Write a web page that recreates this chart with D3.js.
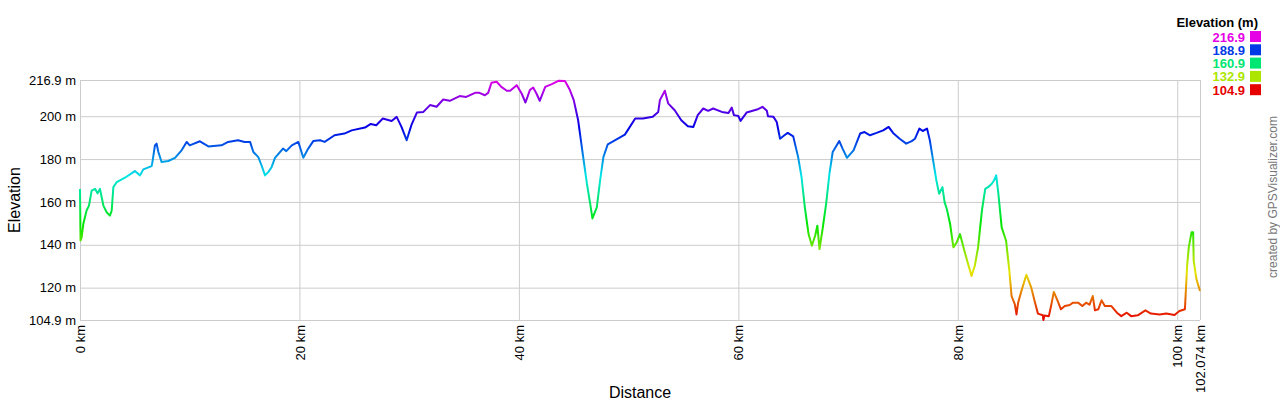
<!DOCTYPE html>
<html>
<head>
<meta charset="utf-8">
<script src="https://cdn.jsdelivr.net/npm/d3@7"></script>
<style>
  body { margin: 0; background: #fff; }
  svg { display: block; font-family: "Liberation Sans", Arial, sans-serif; }
</style>
</head>
<body>
<svg id="chart" width="1280" height="400"></svg>
<script>
// track profile
var distKm = [0, 0.05, 0.15, 0.3, 0.6, 0.82, 1.06, 1.37, 1.6, 1.82, 2.13, 2.43, 2.73, 2.89, 3.04, 3.34, 4.1, 5.0, 5.47, 5.77,
  6.53, 6.6, 6.83, 6.98, 7.14, 7.44, 8.05, 8.66, 9.26, 9.72, 10.0, 10.93, 11.7, 12.9, 13.5, 14.4, 15.0, 15.5, 15.8, 16.25,
  16.55, 16.86, 17.16, 17.46, 17.77, 18.5, 18.8, 19.3, 19.9, 20.35, 20.8, 21.26, 21.87, 22.3, 23.2, 24.1, 24.76, 25.97, 26.5, 27.0,
  27.6, 28.4, 28.86, 29.3, 29.77, 30.2, 30.7, 31.3, 31.9, 32.5, 33.1, 33.7, 34.6, 35.2, 36.0, 36.4, 36.9, 37.2, 37.5, 37.97,
  38.4, 38.9, 39.2, 39.8, 40.25, 40.6, 41.0, 41.3, 41.6, 41.9, 42.4, 43.0, 43.6, 44.2, 44.65, 45.0, 45.4, 45.86, 46.2, 46.5,
  46.7, 47.1, 47.4, 47.7, 48.1, 48.9, 49.66, 50.6, 51.3, 52.2, 52.7, 52.85, 53.3, 53.6, 54.2, 54.8, 55.4, 55.9, 56.3, 56.8,
  57.25, 57.7, 58.5, 59.1, 59.4, 59.6, 60.0, 60.2, 60.75, 61.7, 62.2, 62.6, 62.7, 63.2, 63.5, 63.8, 64.2, 64.5, 65.0, 65.45,
  65.76, 66.06, 66.4, 66.7, 67.0, 67.2, 67.4, 67.7, 68.0, 68.3, 68.6, 69.2, 69.5, 69.9, 70.5, 71.1, 71.5, 72.0, 72.6, 73.2,
  73.7, 74.1, 74.7, 75.3, 75.8, 76.1, 76.5, 76.8, 77.2, 77.45, 77.75, 78.05, 78.3, 78.6, 78.8, 79.0, 79.3, 79.6, 79.9, 80.2,
  80.6, 80.9, 81.25, 81.55, 81.85, 82.2, 82.5, 82.76, 83.1, 83.3, 83.5, 83.7, 84.0, 84.4, 84.7, 84.9, 85.2, 85.35, 85.5, 85.8,
  86.25, 86.7, 87.0, 87.3, 87.75, 87.8, 87.9, 88.3, 88.5, 88.75, 89.1, 89.4, 89.75, 90.2, 90.5, 90.96, 91.35, 91.7, 92.0, 92.3,
  92.5, 92.8, 93.1, 93.4, 94.0, 94.5, 94.9, 95.4, 95.8, 96.4, 97.1, 97.6, 98.4, 99.0, 99.75, 100.2, 100.7, 100.9, 101.05, 101.3,
  101.45, 101.5, 101.75, 102.074];
var elevM = [166, 142, 143.4, 149.7, 156, 158.3, 165.3, 166.1, 164, 166.1, 158.3, 155.2, 153.6, 156, 166.9, 169.2, 171.3, 174.4, 172.4, 175.2,
  176.7, 178.6, 186.4, 187.2, 183.3, 178.6, 179.1, 180.6, 184.1, 188, 186.4, 188.3, 185.9, 186.4, 188, 188.8, 188, 188, 183.3, 180.9,
  177, 172.4, 173.9, 176.2, 180.6, 184.9, 183.7, 186.4, 188, 180.6, 184.9, 188.4, 188.8, 188, 191.1, 191.9, 193.4, 194.7, 196.4, 195.8,
  198.9, 197.8, 199.7, 195, 188.8, 195.8, 201.7, 202, 205.2, 204.4, 207.8, 207.2, 209.4, 209, 210.9, 210.9, 209.8, 210.9, 215.6, 216.1,
  213.7, 211.9, 211.9, 214.5, 210.6, 206.4, 212.2, 213.4, 210.6, 207.2, 213.7, 215, 216.5, 216.4, 212.2, 207.5, 198.1, 180.9, 168.5, 159.1,
  152.3, 157.5, 170, 180.9, 186.9, 189.2, 191.4, 198.9, 198.9, 199.7, 202, 207.5, 211.9, 206, 202.8, 198.1, 195.3, 195, 200.5, 203.6,
  202.5, 203.6, 202, 201.5, 204, 200.5, 200.1, 197.8, 201.7, 203.1, 204.4, 202.5, 200, 199.7, 197.3, 189.5, 191.1, 192.2, 190.6, 180.9,
  171.6, 157.5, 145, 139.6, 144.2, 148.9, 138, 148.1, 159.1, 173.1, 183.3, 188.4, 184.9, 180.6, 184.1, 191.9, 192.6, 191.1, 192.2, 193.4,
  195, 192.2, 189.5, 187.2, 188.4, 189.5, 194.2, 193.1, 194.2, 188.8, 179.4, 170, 163.8, 166.9, 159.8, 156.7, 149.7, 138.8, 141.1, 145,
  137.2, 131.7, 125.5, 130.2, 138.8, 156, 166.1, 166.9, 168.5, 170, 172.4, 163.8, 148.1, 141.9, 127.8, 116.1, 112.2, 107.5, 113, 118.5,
  126, 120, 113.8, 107.9, 107.1, 104.9, 107, 106.7, 111.4, 118, 113.8, 109.9, 111.4, 111.9, 113, 113, 111.4, 113, 112, 116.1,
  109.4, 109.9, 114.1, 111.4, 111.4, 108.3, 106.7, 108.3, 106.7, 107.1, 109.4, 107.9, 107.5, 107.9, 107.2, 109.1, 109.9, 130.2, 138.8, 145.8,
  145.8, 132.5, 123.9, 118.5];

var yTicks = [104.9, 120, 140, 160, 180, 200, 216.9];
var yTickLabels = ["104.9 m", "120 m", "140 m", "160 m", "180 m", "200 m", "216.9 m"];
var xTicks = [0, 20, 40, 60, 80, 100, 102.074];
var xTickLabels = ["0 km", "20 km", "40 km", "60 km", "80 km", "100 km", "102.074 km"];
var legendValues = [216.9, 188.9, 160.9, 132.9, 104.9];

var plotLeft = 80, plotRight = 1200, plotTop = 80, plotBottom = 320;
var minE = 104.9, maxE = 216.9;

var svg = d3.select('#chart');

var x = d3.scaleLinear().domain([0, 102.074]).range([plotLeft, plotRight]);
var y = d3.scaleLinear().domain([minE, maxE]).range([plotBottom, plotTop]);

// red at the bottom, round the hue wheel to magenta at the top
var hue = d3.scaleLinear().domain([minE, maxE]).range([0, 300]);
function elevColor(e) {
  return d3.hsl(hue(e), 1, 0.45).formatHex();
}

var grid = '#cccccc';

// horizontal grid + y labels
svg.append('g')
  .attr('transform', 'translate(' + plotLeft + ',0)')
  .call(d3.axisLeft(y).tickValues(yTicks).tickSize(-(plotRight - plotLeft)).tickPadding(4)
    .tickFormat(function (d, i) { return yTickLabels[i]; }))
  .call(function (g) {
    g.select('.domain').remove();
    g.selectAll('line').attr('stroke', grid);
    g.selectAll('text').attr('font-size', 13).attr('fill', '#000');
  })
  .attr('font-family', null);

// vertical grid + x labels
var xg = svg.append('g')
  .attr('transform', 'translate(0,' + plotBottom + ')')
  .call(d3.axisBottom(x).tickValues(xTicks).tickSize(-(plotBottom - plotTop)).tickPadding(0)
    .tickFormat(function (d, i) { return xTickLabels[i]; }))
  .attr('font-family', null);
xg.select('.domain').remove();
xg.selectAll('line').attr('stroke', grid);
xg.selectAll('text')
  .attr('font-size', 13).attr('fill', '#000')
  .attr('text-anchor', 'end')
  .attr('dy', '0.35em')
  .attr('transform', 'translate(0,5) rotate(-90)')
  .attr('x', 0).attr('y', 0);

// frame left edge
svg.append('line').attr('x1', plotLeft + 0.5).attr('x2', plotLeft + 0.5).attr('y1', plotTop).attr('y2', plotBottom)
  .attr('stroke', grid);

// elevation colour follows height, so one vertical gradient does it
var defs = svg.append('defs');
var grad = defs.append('linearGradient')
  .attr('id', 'elevGrad')
  .attr('gradientUnits', 'userSpaceOnUse')
  .attr('x1', 0).attr('x2', 0)
  .attr('y1', y(minE)).attr('y2', y(maxE));
d3.range(0, 31).forEach(function (i) {
  var e = minE + (maxE - minE) * i / 30;
  grad.append('stop').attr('offset', (i / 30 * 100) + '%').attr('stop-color', elevColor(e));
});

var pts = distKm.map(function (d, i) { return [d, elevM[i]]; });
var line = d3.line().x(function (d) { return x(d[0]); }).y(function (d) { return y(d[1]); });

svg.append('path')
  .datum(pts)
  .attr('d', line)
  .attr('fill', 'none')
  .attr('stroke', 'url(#elevGrad)')
  .attr('stroke-width', 2)
  .attr('stroke-linejoin', 'round');

// axis titles
svg.append('text')
  .attr('transform', 'translate(20,' + ((plotTop + plotBottom) / 2) + ') rotate(-90)')
  .attr('text-anchor', 'middle')
  .attr('font-size', 16)
  .text('Elevation');

svg.append('text')
  .attr('x', (plotLeft + plotRight) / 2).attr('y', 398)
  .attr('text-anchor', 'middle')
  .attr('font-size', 16)
  .text('Distance');

// legend
svg.append('text')
  .attr('x', 1258).attr('y', 27)
  .attr('text-anchor', 'end')
  .attr('font-size', 13).attr('font-weight', 'bold')
  .text('Elevation (m)');

var legend = svg.selectAll('.legend').data(legendValues).enter().append('g')
  .attr('class', 'legend')
  .attr('transform', function (d, i) { return 'translate(0,' + (31 + i * 13.3) + ')'; });

legend.append('rect')
  .attr('x', 1250).attr('y', 0).attr('width', 11).attr('height', 11)
  .attr('fill', elevColor);

legend.append('text')
  .attr('x', 1245).attr('y', 10.5)
  .attr('text-anchor', 'end')
  .attr('font-size', 13).attr('font-weight', 'bold')
  .attr('fill', elevColor)
  .text(function (d) { return d.toFixed(1); });

// watermark
svg.append('text')
  .attr('transform', 'translate(1277,197) rotate(-90)')
  .attr('text-anchor', 'middle')
  .attr('font-size', 12)
  .attr('fill', '#777')
  .text('created by GPSVisualizer.com');
</script>
</body>
</html>
